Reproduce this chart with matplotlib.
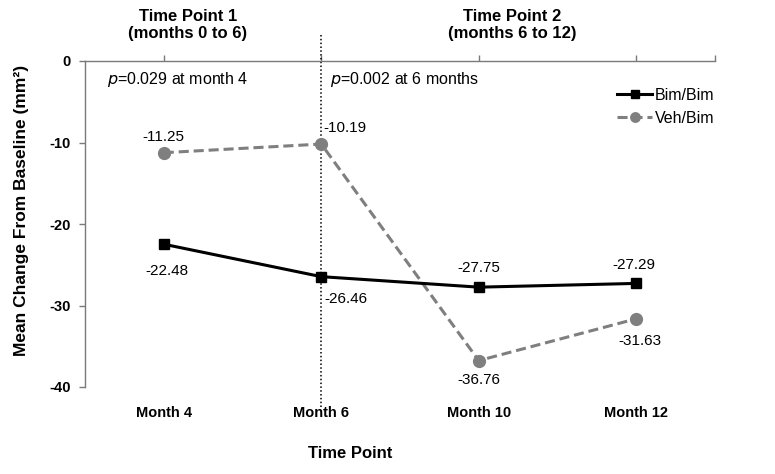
import matplotlib
matplotlib.use("Agg")
import matplotlib.pyplot as plt

plt.rcParams['font.family'] = ['Liberation Sans', 'DejaVu Sans']

categories = ["Month 4", "Month 6", "Month 10", "Month 12"]
bim_bim = [-22.48, -26.46, -27.75, -27.29]
veh_bim = [-11.25, -10.19, -36.76, -31.63]
y_ticks = [0, -10, -20, -30, -40]
series_names = ["Bim/Bim", "Veh/Bim"]

W, H = 775, 474
fig = plt.figure(figsize=(W / 100, H / 100), dpi=100)
ax = fig.add_axes([85 / W, 1 - 387 / H, 630 / W, 326 / H])

x = list(range(len(categories)))
gray = '#7f7f7f'
ax.plot(x, bim_bim, color='black', lw=2.2, marker='s', ms=7.5,
        label=series_names[0], zorder=4)
ax.plot(x, veh_bim, color=gray, lw=2.2, marker='o', ms=8.5,
        dashes=(3.3, 1.6), label=series_names[1], zorder=3)

ax.set_xlim(-0.5, len(categories) - 0.5)
ax.set_ylim(-40, 0)

# vertical dotted separator at Month 6
ax.axvline(1, ymin=-0.061, ymax=1.086, color='black', lw=1.1,
           ls=(0, (1, 1.5)), clip_on=False, zorder=2)

# spines
for s in ['bottom', 'right']:
    ax.spines[s].set_visible(False)
for s in ['left', 'top']:
    ax.spines[s].set_color('#7a7a7a')
    ax.spines[s].set_linewidth(1.0)

ax.set_xticks(x + [len(categories) - 0.5])
ax.set_xticklabels(categories + [''], fontsize=10.5, fontweight='bold')
ax.tick_params(axis='x', bottom=False, top=True, labelbottom=True,
               labeltop=False, direction='out', length=4, width=1,
               color='#7a7a7a', pad=10)
ax.set_yticks(y_ticks)
ax.set_yticklabels([str(v) for v in y_ticks], fontsize=10.5, fontweight='bold')
ax.tick_params(axis='y', direction='out', length=4, width=1,
               color='#7a7a7a', pad=6)

# data labels
off_bim = [((2, -19.5), 'center'), ((2, -16), 'left'), ((0, 13.5), 'center'), ((-2, 13), 'center')]
off_veh = [((0, 11.5), 'center'), ((1.5, 11.5), 'left'), ((0, -14), 'center'), ((3, -16), 'center')]
for xi, v, (o, ha) in zip(x, bim_bim, off_bim):
    ax.annotate(f"{v:.2f}", (xi, v), xytext=o, textcoords='offset points',
                ha=ha, va='center', fontsize=11)
for xi, v, (o, ha) in zip(x, veh_bim, off_veh):
    ax.annotate(f"{v:.2f}", (xi, v), xytext=o, textcoords='offset points',
                ha=ha, va='center', fontsize=11)

# p-value annotations
fig.text(107 / W, 1 - 80 / H, r"$\it{p}$=0.029 at month 4", fontsize=11.5,
         ha='left', va='center')
fig.text(330 / W, 1 - 80 / H, r"$\it{p}$=0.002 at 6 months", fontsize=11.5,
         ha='left', va='center')

# period titles
fig.text(188 / W, 1 - 25 / H, "Time Point 1\n(months 0 to 6)", fontsize=12,
         fontweight='bold', ha='center', va='center', linespacing=1.2)
fig.text(512 / W, 1 - 25 / H, "Time Point 2\n(months 6 to 12)", fontsize=12,
         fontweight='bold', ha='center', va='center', linespacing=1.2)

# axis labels
fig.text(350 / W, 1 - 453 / H, "Time Point", fontsize=12, fontweight='bold',
         ha='center', va='center')
fig.text(22 / W, 1 - 210 / H, "Mean Change From Baseline (mm²)",
         fontsize=12.5, fontweight='bold', rotation=90, ha='center', va='center')

leg = ax.legend(loc='upper right', bbox_to_anchor=(714 / W, 1 - 88 / H),
                bbox_transform=fig.transFigure, frameon=False, fontsize=11.5,
                handlelength=2.2, handletextpad=0.15, labelspacing=0.5,
                borderaxespad=0, borderpad=0, markerscale=0.8)

fig.savefig("out.png", dpi=100)
